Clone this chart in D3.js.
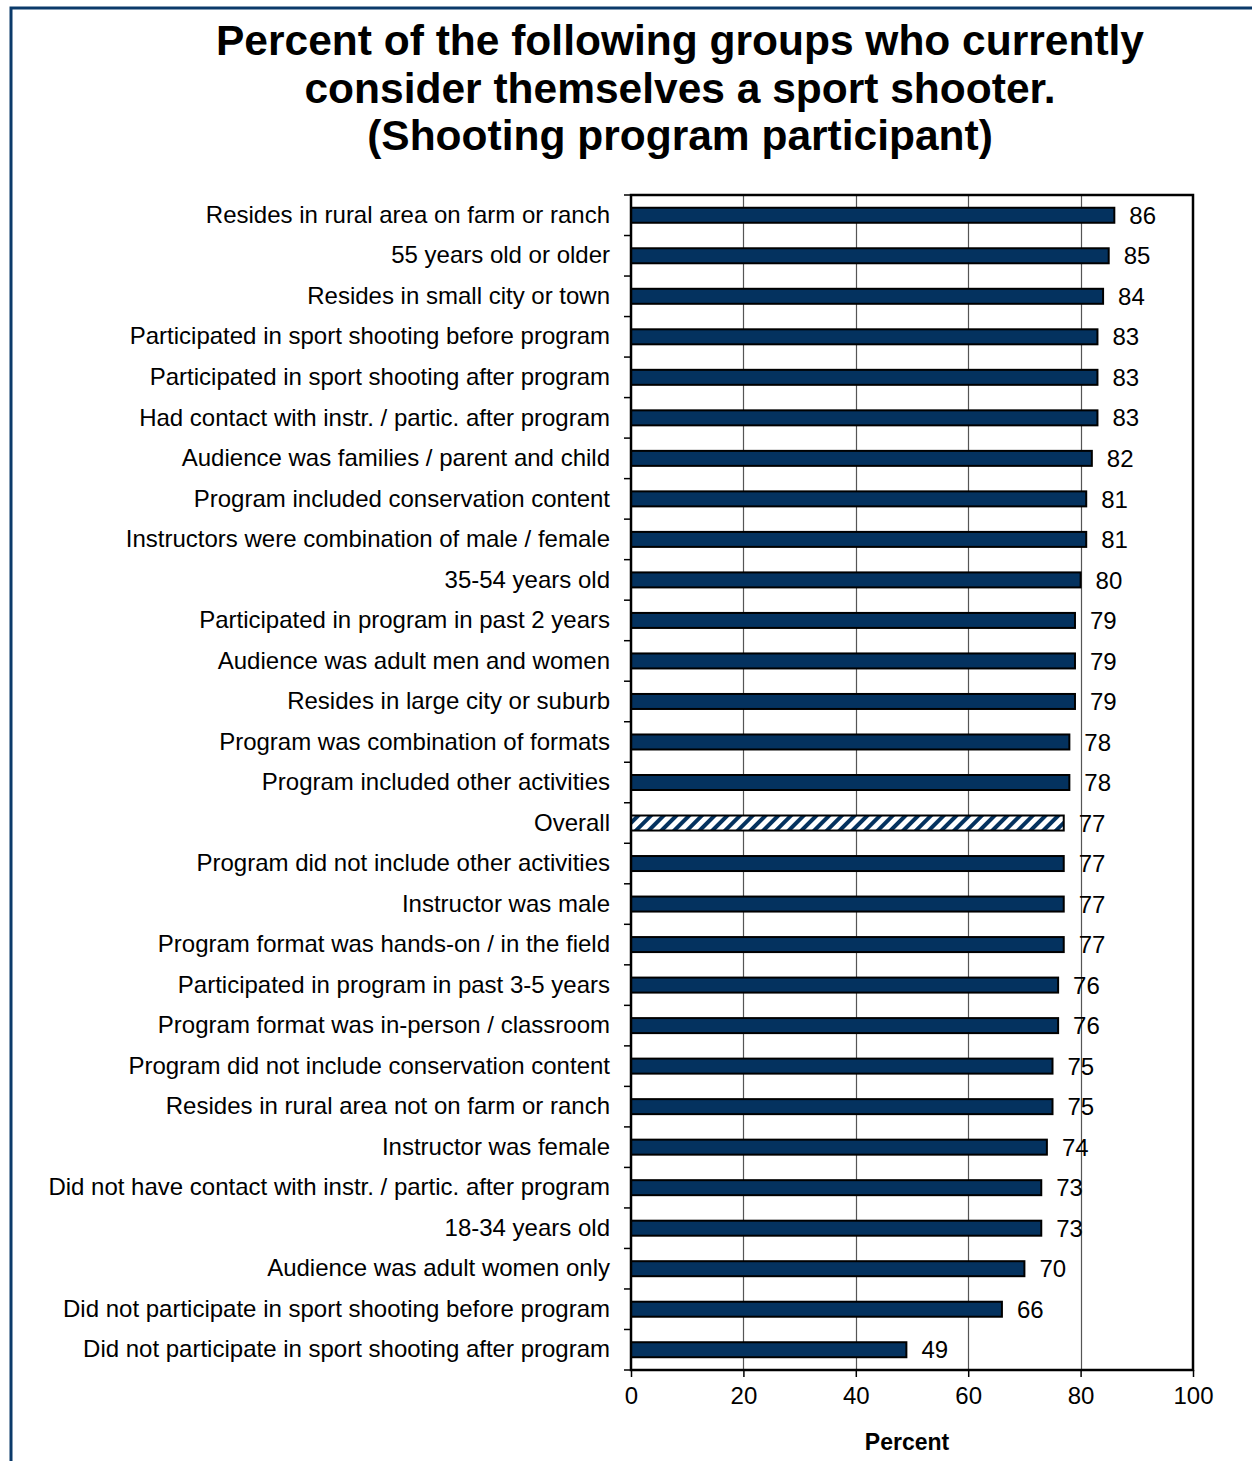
<!DOCTYPE html>
<html>
<head>
<meta charset="utf-8">
<script src="https://cdn.jsdelivr.net/npm/d3@7"></script>
<style>
  html, body { margin: 0; padding: 0; background: #fff; }
  svg { display: block; font-family: Arial, "Liberation Sans", Helvetica, sans-serif; }
</style>
</head>
<body>
<svg id="chart" width="1252" height="1461"></svg>
<script>
// Groups, top to bottom
const categories = [
  "Resides in rural area on farm or ranch",
  "55 years old or older",
  "Resides in small city or town",
  "Participated in sport shooting before program",
  "Participated in sport shooting after program",
  "Had contact with instr. / partic. after program",
  "Audience was families / parent and child",
  "Program included conservation content",
  "Instructors were combination of male / female",
  "35-54 years old",
  "Participated in program in past 2 years",
  "Audience was adult men and women",
  "Resides in large city or suburb",
  "Program was combination of formats",
  "Program included other activities",
  "Overall",
  "Program did not include other activities",
  "Instructor was male",
  "Program format was hands-on / in the field",
  "Participated in program in past 3-5 years",
  "Program format was in-person / classroom",
  "Program did not include conservation content",
  "Resides in rural area not on farm or ranch",
  "Instructor was female",
  "Did not have contact with instr. / partic. after program",
  "18-34 years old",
  "Audience was adult women only",
  "Did not participate in sport shooting before program",
  "Did not participate in sport shooting after program"
];

// Percent who consider themselves a sport shooter
const values = [86, 85, 84, 83, 83, 83, 82, 81, 81, 80, 79, 79, 79, 78, 78, 77, 77, 77, 77, 76, 76, 75, 75, 74, 73, 73, 70, 66, 49];

const xTicks = [0, 20, 40, 60, 80, 100];
const highlighted = "Overall";

const titleLines = [
  "Percent of the following groups who currently",
  "consider themselves a sport shooter.",
  "(Shooting program participant)"
];
const xAxisTitle = "Percent";

const navy = "#04325f";
const fontStack = "Arial, 'Liberation Sans', Helvetica, sans-serif";

const svg = d3.select("#chart");

// outer frame
svg.append("rect")
  .attr("x", 11).attr("y", 8)
  .attr("width", 1300).attr("height", 1500)
  .attr("fill", "none")
  .attr("stroke", "#0b3a6a")
  .attr("stroke-width", 3);

// hatch pattern for the overall bar
const defs = svg.append("defs");
const pat = defs.append("pattern")
  .attr("id", "hatch")
  .attr("patternUnits", "userSpaceOnUse")
  .attr("width", 9).attr("height", 9)
  .attr("patternTransform", "rotate(45)");
pat.append("rect").attr("width", 9).attr("height", 9).attr("fill", "#fff");
pat.append("rect").attr("x", 0).attr("y", 0).attr("width", 4).attr("height", 9).attr("fill", navy);

// title
const title = svg.append("text")
  .attr("text-anchor", "middle")
  .attr("font-weight", "bold")
  .attr("font-size", 42.5)
  .attr("fill", "#000");
titleLines.forEach((t, i) => {
  title.append("tspan").attr("x", 680).attr("y", 55 + i * 47.5).text(t);
});

const plot = { left: 631, right: 1193, top: 195, bottom: 1370 };

const x = d3.scaleLinear().domain([0, 100]).range([plot.left, plot.right]);
const y = d3.scaleBand().domain(categories).range([plot.top, plot.bottom]).paddingInner(0).paddingOuter(0);

const g = svg.append("g");

// vertical gridlines
g.selectAll("line.grid")
  .data(xTicks.filter(d => d > 0 && d < 100))
  .join("line")
  .attr("class", "grid")
  .attr("x1", d => Math.round(x(d)) + 0.5).attr("x2", d => Math.round(x(d)) + 0.5)
  .attr("y1", plot.top).attr("y2", plot.bottom)
  .attr("stroke", "#555").attr("stroke-width", 1.2);

// bars
const barH = 15;
g.selectAll("rect.bar")
  .data(categories)
  .join("rect")
  .attr("class", "bar")
  .attr("x", x(0))
  .attr("y", d => y(d) + y.bandwidth() / 2 - barH / 2)
  .attr("width", (d, i) => x(values[i]) - x(0))
  .attr("height", barH)
  .attr("fill", d => d === highlighted ? "url(#hatch)" : navy)
  .attr("stroke", "#000")
  .attr("stroke-width", 2);

// value labels
g.selectAll("text.val")
  .data(categories)
  .join("text")
  .attr("class", "val")
  .attr("x", (d, i) => x(values[i]) + 15)
  .attr("y", d => y(d) + y.bandwidth() / 2)
  .attr("dy", "0.36em")
  .attr("font-size", 24)
  .attr("fill", "#000")
  .text((d, i) => values[i]);

// plot border
g.append("rect")
  .attr("x", plot.left).attr("y", plot.top)
  .attr("width", plot.right - plot.left).attr("height", plot.bottom - plot.top)
  .attr("fill", "none").attr("stroke", "#000").attr("stroke-width", 2.5);

// category axis
const yAxis = d3.axisLeft(y).tickSize(0).tickPadding(21);
const yg = svg.append("g").attr("transform", `translate(${plot.left},0)`).call(yAxis);
yg.select(".domain").remove();
yg.selectAll("text").attr("font-size", 24).attr("fill", "#000").attr("font-family", fontStack);

// ticks between categories
const bounds = categories.map(c => y(c)).concat([plot.bottom]);
svg.selectAll("line.ytick")
  .data(bounds)
  .join("line")
  .attr("class", "ytick")
  .attr("x1", plot.left - 7).attr("x2", plot.left)
  .attr("y1", d => d).attr("y2", d => d)
  .attr("stroke", "#000").attr("stroke-width", 1.5);

// value axis
const xAxis = d3.axisBottom(x).tickValues(xTicks).tickSize(7).tickPadding(10).tickFormat(d3.format("d"));
const xg = svg.append("g").attr("transform", `translate(0,${plot.bottom})`).call(xAxis);
xg.select(".domain").remove();
xg.selectAll(".tick line").attr("stroke", "#000").attr("stroke-width", 1.5);
xg.selectAll("text").attr("font-size", 24).attr("fill", "#000").attr("font-family", fontStack);

svg.append("text")
  .attr("x", (plot.left + plot.right) / 2 - 5)
  .attr("y", 1450)
  .attr("text-anchor", "middle")
  .attr("font-weight", "bold")
  .attr("font-size", 23)
  .attr("fill", "#000")
  .text(xAxisTitle);
</script>
</body>
</html>
